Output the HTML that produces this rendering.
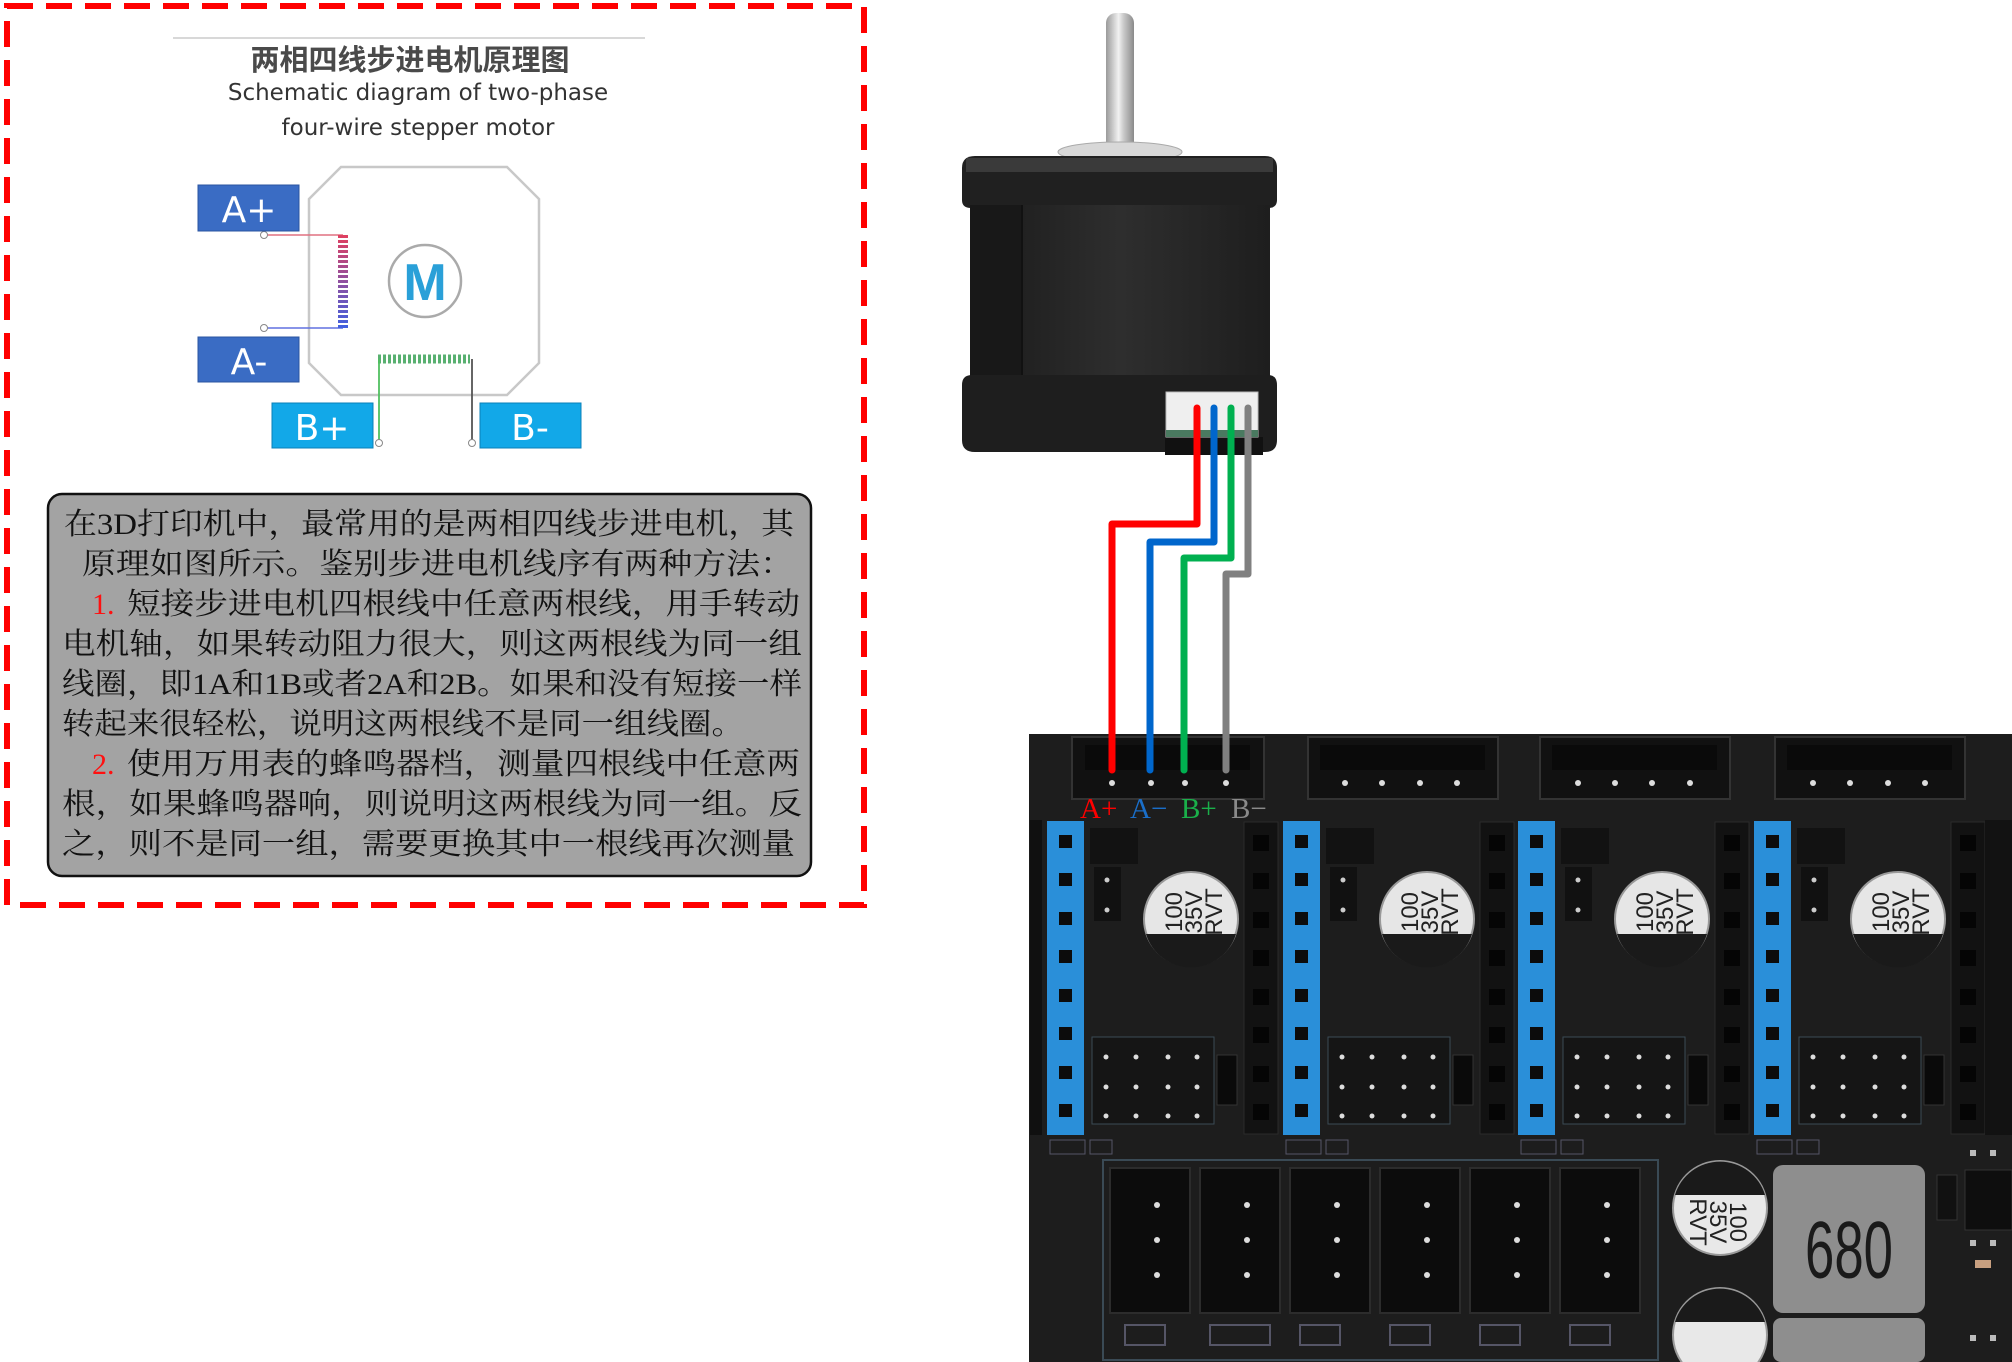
<!DOCTYPE html>
<html><head><meta charset="utf-8"><style>
html,body{margin:0;padding:0;background:#fff;}
svg{display:block;}
</style></head><body>
<svg width="2012" height="1362" viewBox="0 0 2012 1362" xmlns="http://www.w3.org/2000/svg">
<defs>
<linearGradient id="shaft" x1="0" x2="1"><stop offset="0" stop-color="#9a9a9a"/><stop offset="0.45" stop-color="#f2f2f2"/><stop offset="0.6" stop-color="#cfcfcf"/><stop offset="1" stop-color="#8a8a8a"/></linearGradient>
<linearGradient id="coilA" gradientUnits="userSpaceOnUse" x1="0" y1="235" x2="0" y2="328"><stop offset="0" stop-color="#e04060"/><stop offset="1" stop-color="#4060e0"/></linearGradient>
<linearGradient id="body" x1="0" x2="1"><stop offset="0" stop-color="#1a1a1a"/><stop offset="0.5" stop-color="#2e2e2e"/><stop offset="1" stop-color="#1e1e1e"/></linearGradient>
<g id="drv">
  <rect x="1047" y="821" width="37" height="314" fill="#2a8fd9"/>
  <g fill="#0c0c0c">
    <rect x="1059" y="835" width="13" height="13"/><rect x="1059" y="873" width="13" height="13"/><rect x="1059" y="912" width="13" height="13"/><rect x="1059" y="950" width="13" height="13"/><rect x="1059" y="989" width="13" height="13"/><rect x="1059" y="1027" width="13" height="13"/><rect x="1059" y="1066" width="13" height="13"/><rect x="1059" y="1104" width="13" height="13"/>
  </g>
  <rect x="1244" y="822" width="34" height="312" fill="#121212" stroke="#2a2a2a"/>
  <g fill="#050505">
    <rect x="1253" y="835" width="16" height="16"/><rect x="1253" y="873" width="16" height="16"/><rect x="1253" y="912" width="16" height="16"/><rect x="1253" y="950" width="16" height="16"/><rect x="1253" y="989" width="16" height="16"/><rect x="1253" y="1027" width="16" height="16"/><rect x="1253" y="1066" width="16" height="16"/><rect x="1253" y="1104" width="16" height="16"/>
  </g>
  <rect x="1090" y="828" width="48" height="36" fill="#121212"/>
  <rect x="1094" y="867" width="27" height="54" fill="#111"/>
  <circle cx="1107" cy="880" r="2.5" fill="#ccc"/><circle cx="1107" cy="910" r="2.5" fill="#ccc"/>
  <circle cx="1191" cy="919" r="47" fill="#e6e6e6" stroke="#999" stroke-width="2"/>
  <path d="M1146 934 A47 47 0 0 0 1236 934 Z" fill="#1a1a1a"/>
  <text transform="translate(1182,912) rotate(-90)" font-family="Liberation Sans, sans-serif" font-size="24" fill="#222" text-anchor="middle">100</text>
  <text transform="translate(1202,912) rotate(-90)" font-family="Liberation Sans, sans-serif" font-size="24" fill="#222" text-anchor="middle">35V</text>
  <text transform="translate(1222,912) rotate(-90)" font-family="Liberation Sans, sans-serif" font-size="24" fill="#222" text-anchor="middle">RVT</text>
  <rect x="1092" y="1037" width="122" height="87" fill="#151515" stroke="#3a4a55"/>
  <g fill="#ddd">
    <circle cx="1106" cy="1057" r="2.5"/><circle cx="1136" cy="1057" r="2.5"/><circle cx="1168" cy="1057" r="2.5"/><circle cx="1197" cy="1057" r="2.5"/>
    <circle cx="1106" cy="1087" r="2.5"/><circle cx="1136" cy="1087" r="2.5"/><circle cx="1168" cy="1087" r="2.5"/><circle cx="1197" cy="1087" r="2.5"/>
    <circle cx="1106" cy="1116" r="2.5"/><circle cx="1136" cy="1116" r="2.5"/><circle cx="1168" cy="1116" r="2.5"/><circle cx="1197" cy="1116" r="2.5"/>
  </g>
  <rect x="1217" y="1055" width="20" height="50" fill="#0a0a0a" stroke="#333"/>
  <rect x="1050" y="1140" width="35" height="14" fill="none" stroke="#556"/>
  <rect x="1090" y="1140" width="22" height="14" fill="none" stroke="#556"/>
</g>
</defs>

<rect x="7" y="6" width="857" height="899" fill="none" stroke="#ff0000" stroke-width="6" stroke-dasharray="26 13"/>
<line x1="173" y1="38" x2="645" y2="38" stroke="#ccc" stroke-width="1.5"/>
<text x="410" y="70" text-anchor="middle" font-family="'Noto Sans CJK SC', sans-serif" font-weight="bold" font-size="29" fill="#4a4a4a">两相四线步进电机原理图</text>
<text x="418" y="100" text-anchor="middle" font-family="'DejaVu Sans', 'Liberation Sans', sans-serif" font-size="23" fill="#333">Schematic diagram of two-phase</text>
<text x="418" y="135" text-anchor="middle" font-family="'DejaVu Sans', 'Liberation Sans', sans-serif" font-size="23" fill="#333">four-wire stepper motor</text>

<polygon points="341,167 507,167 539,199 539,363 507,395 341,395 309,363 309,199" fill="#fff" stroke="#c8c8c8" stroke-width="2.5"/>
<circle cx="425" cy="281" r="36" fill="#fff" stroke="#aaa" stroke-width="2.5"/>
<text x="425" y="300" text-anchor="middle" font-family="Liberation Sans, sans-serif" font-weight="bold" font-size="52" fill="#2aa0d8">M</text>

<path d="M264 235 H343" stroke="#e07080" stroke-width="1.5" fill="none"/>
<path d="M264 328 H343" stroke="#6070e0" stroke-width="1.5" fill="none"/>
<line x1="343" y1="235" x2="343" y2="328" stroke="url(#coilA)" stroke-width="10" stroke-dasharray="3 2"/>
<circle cx="264" cy="235" r="3.5" fill="#fff" stroke="#888"/>
<circle cx="264" cy="328" r="3.5" fill="#fff" stroke="#888"/>
<line x1="378" y1="359" x2="470" y2="359" stroke="#58b070" stroke-width="9" stroke-dasharray="3 2"/>
<path d="M379 359 V442" stroke="#50c060" stroke-width="1.8" fill="none"/>
<path d="M472 359 V442" stroke="#555" stroke-width="1.8" fill="none"/>
<circle cx="379" cy="443" r="3.5" fill="#fff" stroke="#888"/>
<circle cx="472" cy="443" r="3.5" fill="#fff" stroke="#888"/>

<rect x="198" y="185" width="101" height="46" fill="#3a6cc4" stroke="#2b55a0"/>
<text x="249" y="222" text-anchor="middle" font-family="'DejaVu Sans', sans-serif" font-size="36" fill="#fff">A+</text>
<rect x="198" y="337" width="101" height="45" fill="#3a6cc4" stroke="#2b55a0"/>
<text x="249" y="374" text-anchor="middle" font-family="'DejaVu Sans', sans-serif" font-size="36" fill="#fff">A-</text>
<rect x="272" y="403" width="101" height="45" fill="#12a8e8" stroke="#0b80b8"/>
<text x="322" y="440" text-anchor="middle" font-family="'DejaVu Sans', sans-serif" font-size="36" fill="#fff">B+</text>
<rect x="480" y="403" width="101" height="45" fill="#12a8e8" stroke="#0b80b8"/>
<text x="530" y="440" text-anchor="middle" font-family="'DejaVu Sans', sans-serif" font-size="36" fill="#fff">B-</text>

<rect x="48" y="494" width="763" height="382" rx="14" fill="#a3a3a3" stroke="#111" stroke-width="2.5"/>
<g font-family="'Liberation Serif', 'Noto Serif CJK SC', serif" font-size="30" fill="#111">
<text x="64" y="534" textLength="730" lengthAdjust="spacingAndGlyphs">在3D打印机中，最常用的是两相四线步进电机，其</text>
<text x="82" y="574" textLength="712" lengthAdjust="spacingAndGlyphs">原理如图所示。鉴别步进电机线序有两种方法：</text>
<text x="92" y="614" fill="#ff1010">1.</text>
<text x="127" y="614" textLength="673" lengthAdjust="spacingAndGlyphs">短接步进电机四根线中任意两根线，用手转动</text>
<text x="62" y="654" textLength="740" lengthAdjust="spacingAndGlyphs">电机轴，如果转动阻力很大，则这两根线为同一组</text>
<text x="62" y="694" textLength="740" lengthAdjust="spacingAndGlyphs">线圈，即1A和1B或者2A和2B。如果和没有短接一样</text>
<text x="62" y="734" textLength="682" lengthAdjust="spacingAndGlyphs">转起来很轻松，说明这两根线不是同一组线圈。</text>
<text x="92" y="774" fill="#ff1010">2.</text>
<text x="127" y="774" textLength="673" lengthAdjust="spacingAndGlyphs">使用万用表的蜂鸣器档，测量四根线中任意两</text>
<text x="62" y="814" textLength="740" lengthAdjust="spacingAndGlyphs">根，如果蜂鸣器响，则说明这两根线为同一组。反</text>
<text x="62" y="854" textLength="733" lengthAdjust="spacingAndGlyphs">之，则不是同一组，需要更换其中一根线再次测量</text>
</g>

<rect x="1106" y="13" width="28" height="145" rx="10" fill="url(#shaft)"/>
<ellipse cx="1120" cy="152" rx="62" ry="10" fill="#d8d8d8" stroke="#aaa"/>
<path d="M975 156 H1265 Q1277 156 1277 168 V200 Q1277 208 1268 208 H971 Q962 208 962 200 V168 Q962 156 975 156 Z" fill="#202020"/>
<rect x="966" y="158" width="307" height="14" fill="#3a3a3a"/>
<rect x="970" y="205" width="300" height="175" fill="url(#body)"/>
<rect x="970" y="205" width="52" height="175" fill="#181818"/>
<line x1="1022" y1="205" x2="1022" y2="380" stroke="#111" stroke-width="2"/>
<path d="M972 375 H1268 Q1277 375 1277 385 V440 Q1277 452 1265 452 H975 Q962 452 962 440 V385 Q962 375 972 375 Z" fill="#1e1e1e"/>
<rect x="1165" y="437" width="98" height="18" fill="#111"/>
<rect x="1166" y="392" width="92" height="45" fill="#efefef" stroke="#bbb"/>
<rect x="1166" y="430" width="92" height="7" fill="#4a7a60"/>

<g fill="none" stroke-width="7" stroke-linejoin="round" stroke-linecap="round">
<path d="M1197 408 V524 H1112 V770" stroke="#ff0000"/>
<path d="M1214 408 V542 H1150 V770" stroke="#0066cc"/>
<path d="M1231 408 V558 H1184 V770" stroke="#00b050"/>
<path d="M1248 408 V574 H1226 V770" stroke="#808080"/>
</g>

<rect x="1029" y="734" width="983" height="628" fill="#1d1d1d"/>
<g fill="#111" stroke="#333" stroke-width="2">
<rect x="1072" y="737" width="192" height="62"/>
<rect x="1308" y="737" width="190" height="62"/>
<rect x="1540" y="737" width="190" height="62"/>
<rect x="1775" y="737" width="190" height="62"/>
</g>
<g fill="#0a0a0a"><rect x="1085" y="745" width="165" height="25"/><rect x="1320" y="745" width="165" height="25"/><rect x="1552" y="745" width="165" height="25"/><rect x="1787" y="745" width="165" height="25"/></g>
<g fill="#ddd">
<circle cx="1112" cy="783" r="3"/><circle cx="1151" cy="783" r="3"/><circle cx="1185" cy="783" r="3"/><circle cx="1226" cy="783" r="3"/>
<circle cx="1345" cy="783" r="3"/><circle cx="1382" cy="783" r="3"/><circle cx="1420" cy="783" r="3"/><circle cx="1457" cy="783" r="3"/>
<circle cx="1578" cy="783" r="3"/><circle cx="1615" cy="783" r="3"/><circle cx="1652" cy="783" r="3"/><circle cx="1690" cy="783" r="3"/>
<circle cx="1813" cy="783" r="3"/><circle cx="1850" cy="783" r="3"/><circle cx="1888" cy="783" r="3"/><circle cx="1925" cy="783" r="3"/>
</g>
<use href="#drv"/>
<use href="#drv" transform="translate(236,0)"/>
<use href="#drv" transform="translate(471,0)"/>
<use href="#drv" transform="translate(707,0)"/>
<rect x="1030" y="820" width="12" height="315" fill="#101010"/>
<rect x="1985" y="820" width="27" height="315" fill="#121212"/>

<g stroke-width="7" stroke-linecap="round">
<line x1="1112" y1="734" x2="1112" y2="770" stroke="#ff0000"/>
<line x1="1150" y1="734" x2="1150" y2="770" stroke="#0066cc"/>
<line x1="1184" y1="734" x2="1184" y2="770" stroke="#00b050"/>
<line x1="1226" y1="734" x2="1226" y2="770" stroke="#808080"/>
</g>

<g font-family="'Liberation Serif', serif" font-size="29">
<text x="1080" y="818" fill="#ff0000">A+</text>
<text x="1130" y="818" fill="#1a6ec8">A−</text>
<text x="1181" y="818" fill="#1ab04a">B+</text>
<text x="1231" y="818" fill="#8a8a8a">B−</text>
</g>

<rect x="1103" y="1160" width="555" height="200" fill="none" stroke="#3a4a55" stroke-width="2"/>
<g fill="#0c0c0c" stroke="#2c2c2c" stroke-width="2">
<rect x="1110" y="1168" width="80" height="145"/>
<rect x="1200" y="1168" width="80" height="145"/>
<rect x="1290" y="1168" width="80" height="145"/>
<rect x="1380" y="1168" width="80" height="145"/>
<rect x="1470" y="1168" width="80" height="145"/>
<rect x="1560" y="1168" width="80" height="145"/>
</g>
<g fill="#ddd">
<circle cx="1157" cy="1205" r="3"/><circle cx="1157" cy="1240" r="3"/><circle cx="1157" cy="1275" r="3"/>
<circle cx="1247" cy="1205" r="3"/><circle cx="1247" cy="1240" r="3"/><circle cx="1247" cy="1275" r="3"/>
<circle cx="1337" cy="1205" r="3"/><circle cx="1337" cy="1240" r="3"/><circle cx="1337" cy="1275" r="3"/>
<circle cx="1427" cy="1205" r="3"/><circle cx="1427" cy="1240" r="3"/><circle cx="1427" cy="1275" r="3"/>
<circle cx="1517" cy="1205" r="3"/><circle cx="1517" cy="1240" r="3"/><circle cx="1517" cy="1275" r="3"/>
<circle cx="1607" cy="1205" r="3"/><circle cx="1607" cy="1240" r="3"/><circle cx="1607" cy="1275" r="3"/>
</g>
<g fill="none" stroke="#556" stroke-width="2">
<rect x="1125" y="1325" width="40" height="20"/><rect x="1210" y="1325" width="60" height="20"/><rect x="1300" y="1325" width="40" height="20"/><rect x="1390" y="1325" width="40" height="20"/><rect x="1480" y="1325" width="40" height="20"/><rect x="1570" y="1325" width="40" height="20"/>
</g>

<circle cx="1720" cy="1208" r="47" fill="#e8e8e8" stroke="#999" stroke-width="2"/>
<path d="M1675 1195 A47 47 0 0 1 1765 1195 Z" fill="#1a1a1a"/>
<text transform="translate(1730,1222) rotate(90)" font-family="Liberation Sans, sans-serif" font-size="24" fill="#222" text-anchor="middle">100</text>
<text transform="translate(1710,1222) rotate(90)" font-family="Liberation Sans, sans-serif" font-size="24" fill="#222" text-anchor="middle">35V</text>
<text transform="translate(1690,1222) rotate(90)" font-family="Liberation Sans, sans-serif" font-size="24" fill="#222" text-anchor="middle">RVT</text>
<circle cx="1720" cy="1335" r="47" fill="#e8e8e8" stroke="#999" stroke-width="2"/>
<path d="M1675 1322 A47 47 0 0 1 1765 1322 Z" fill="#1a1a1a"/>
<rect x="1773" y="1165" width="152" height="148" rx="10" fill="#8e8e8e"/>
<text x="1849" y="1269" text-anchor="middle" font-family="'Liberation Sans Narrow', 'Liberation Sans', sans-serif" font-size="62" fill="#1a1a1a" transform="translate(1849,1240) scale(0.85,1.3) translate(-1849,-1240)">680</text>
<rect x="1773" y="1318" width="152" height="44" rx="8" fill="#8e8e8e"/>
<rect x="1937" y="1175" width="20" height="45" fill="#111" stroke="#333"/>
<rect x="1965" y="1170" width="47" height="60" fill="#0e0e0e" stroke="#333"/>
<rect x="1975" y="1260" width="16" height="8" fill="#c8a080"/>
<g fill="#bbb"><rect x="1970" y="1150" width="6" height="6"/><rect x="1990" y="1150" width="6" height="6"/><rect x="1970" y="1240" width="6" height="6"/><rect x="1990" y="1240" width="6" height="6"/><rect x="1970" y="1335" width="6" height="6"/><rect x="1990" y="1335" width="6" height="6"/></g>
</svg>
</body></html>
